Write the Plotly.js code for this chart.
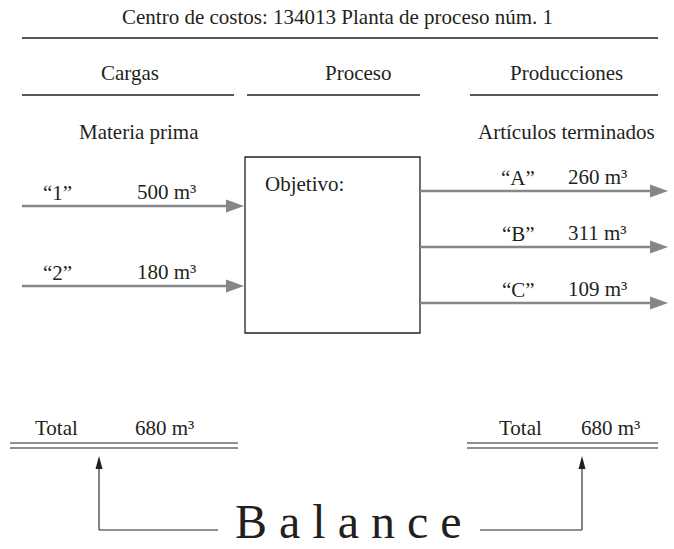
<!DOCTYPE html>
<html>
<head>
<meta charset="utf-8">
<script src="https://cdn.plot.ly/plotly-3.0.1.min.js"></script>
<style>html,body{margin:0;padding:0;background:#fff;}#chart{width:674px;height:549px;}</style>
</head>
<body>
<div id="chart"></div>
<script>
// ---- data ----
const titleText = 'Centro de costos: 134013 Planta de proceso núm. 1';
const columnHeads = ['Cargas', 'Proceso', 'Producciones'];
const subHeads = ['Materia prima', 'Artículos terminados'];
const boxLabel = 'Objetivo:';
const inputNames = ['“1”', '“2”'];
const inputValues = [500, 180];
const outputNames = ['“A”', '“B”', '“C”'];
const outputValues = [260, 311, 109];
const unit = 'm³';
const totalLabel = 'Total';
const balanceLabel = 'Balance';

// ---- layout geometry (pixel space) ----
const W = 674, H = 549;
const FONT = '"Liberation Serif", "Times New Roman", serif';
const TXT = '#231f20';
const GRAY = '#878787';
const FS = 21;
const inputTotal = inputValues.reduce((a, b) => a + b, 0);
const outputTotal = outputValues.reduce((a, b) => a + b, 0);

const shapes = [];
const annotations = [];

function text(x, y, t, size, anchor) {
  annotations.push({x: x, y: y, xref: 'x', yref: 'y', text: t, showarrow: false,
    xanchor: anchor || 'center', yanchor: 'middle', borderpad: 0,
    font: {family: FONT, size: size || FS, color: TXT}});
}
function line(x0, y0, x1, y1, color, width) {
  shapes.push({type: 'line', xref: 'x', yref: 'y', x0: x0, y0: y0, x1: x1, y1: y1,
    line: {color: color || TXT, width: width || 1.3}});
}
function headRight(x, y, len, half, color) {
  shapes.push({type: 'path', xref: 'x', yref: 'y',
    path: `M${x},${y} L${x - len},${y - half} L${x - len},${y + half} Z`,
    fillcolor: color, line: {width: 0}});
}
function headUp(x, y, len, half, color) {
  shapes.push({type: 'path', xref: 'x', yref: 'y',
    path: `M${x},${y} L${x - half},${y + len} L${x + half},${y + len} Z`,
    fillcolor: color, line: {width: 0}});
}

// title & header rules
text(337, 17, titleText);
line(22, 38, 658, 38);
const headX = [130, 358, 566];
columnHeads.forEach((h, i) => text(headX[i], 73, h));
line(22, 95, 234, 95);
line(247, 95, 420, 95);
line(470, 95, 658, 95);
text(139, 132, subHeads[0]);
text(566, 132, subHeads[1]);

// process box
shapes.push({type: 'rect', xref: 'x', yref: 'y', x0: 245, y0: 157, x1: 420, y1: 333,
  line: {color: TXT, width: 1.3}, fillcolor: 'rgba(0,0,0,0)'});
text(264, 184, boxLabel, FS, 'left');

// inputs
const inY = [206, 286];
inputNames.forEach((n, i) => {
  const y = inY[i];
  line(22, y, 228, y, GRAY, 2.6);
  headRight(244, y, 18, 6.5, GRAY);
  text(57, y - 13, n);
  text(166, y - 14, inputValues[i] + ' ' + unit);
});

// outputs
const outY = [191, 247, 303];
outputNames.forEach((n, i) => {
  const y = outY[i];
  line(420, y, 652, y, GRAY, 2.6);
  headRight(668, y, 18, 6.5, GRAY);
  text(518, y - 13, n);
  text(597, y - 14, outputValues[i] + ' ' + unit);
});

// totals
text(56, 428, totalLabel);
text(164, 428, inputTotal + ' ' + unit);
line(10, 443, 238, 443, TXT, 1.2);
line(10, 448, 238, 448, TXT, 1.2);
text(520, 428, totalLabel);
text(610, 428, outputTotal + ' ' + unit);
line(467, 443, 658, 443, TXT, 1.2);
line(467, 448, 658, 448, TXT, 1.2);

// balance connectors
line(99, 530, 218, 530, TXT, 1.1);
line(99, 530, 99, 466, TXT, 1.1);
headUp(99, 456, 13, 3.5, TXT);
line(480, 530, 582, 530, TXT, 1.1);
line(582, 530, 582, 466, TXT, 1.1);
headUp(582, 456, 13, 3.5, TXT);
text(348, 521, balanceLabel.split('').join(' '), 48);

const trace = {x: [0], y: [0], mode: 'markers', marker: {opacity: 0}, hoverinfo: 'skip', showlegend: false};

Plotly.newPlot('chart', [trace], {
  width: W, height: H,
  margin: {l: 0, r: 0, t: 0, b: 0},
  paper_bgcolor: '#fff', plot_bgcolor: '#fff',
  xaxis: {range: [0, W], visible: false, fixedrange: true},
  yaxis: {range: [H, 0], visible: false, fixedrange: true},
  shapes: shapes,
  annotations: annotations,
  showlegend: false
}, {staticPlot: true});
</script>
</body>
</html>
